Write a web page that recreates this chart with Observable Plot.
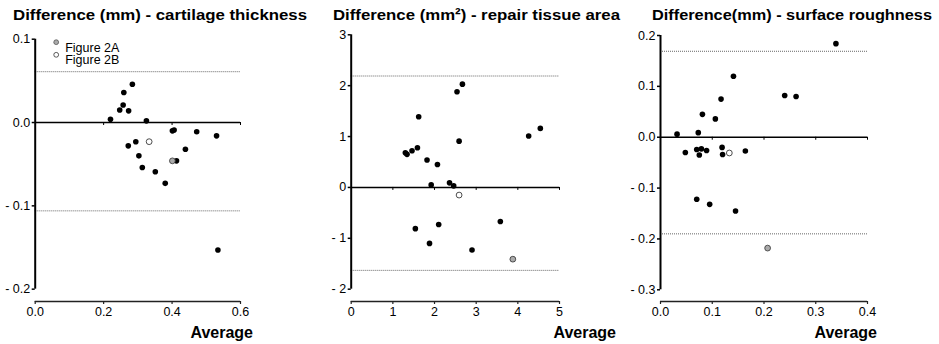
<!DOCTYPE html>
<html>
<head>
<meta charset="utf-8">
<script src="https://cdn.jsdelivr.net/npm/d3@7"></script>
<script src="https://cdn.jsdelivr.net/npm/@observablehq/plot@0.6"></script>
<style>
  html, body { margin: 0; padding: 0; background: white; }
  #root { position: relative; width: 939px; height: 344px; overflow: hidden; font-family: "Liberation Sans", Arial, Helvetica, sans-serif; }
  .panel { position: absolute; top: 0; }
  .title { position: absolute; font-weight: bold; font-size: 15.5px; line-height: 16px; white-space: nowrap; transform-origin: 0 0; color: #000; }
  .avg { position: absolute; font-weight: bold; font-size: 16px; line-height: 16px; white-space: nowrap; color: #000; }
</style>
</head>
<body>
<div id="root"></div>
<script>
// ---------- Data ----------
// Panel 1: cartilage thickness (mm)
const thicknessAvg  = [0.220,0.247,0.257,0.259,0.273,0.284,0.272,0.294,0.303,0.313,0.325,0.351,0.380,0.401,0.406,0.413,0.439,0.472,0.530,0.534];
const thicknessDiff = [0.004,0.015,0.021,0.036,0.014,0.046,-0.028,-0.023,-0.040,-0.054,0.002,-0.059,-0.073,-0.010,-0.009,-0.046,-0.032,-0.011,-0.016,-0.153];
const thicknessFig2A = {avg: 0.401, diff: -0.046};
const thicknessFig2B = {avg: 0.333, diff: -0.023};
const thicknessLimits = [0.061, -0.106];
const thicknessXTicks = [0, 0.2, 0.4, 0.6];
const thicknessYTicks = [-0.2, -0.1, 0, 0.1];

// Panel 2: repair tissue area (mm²)
const areaAvg  = [1.30,1.34,1.46,1.59,1.62,1.82,1.92,2.07,2.36,2.46,2.54,2.67,2.59,4.26,4.54,1.54,1.88,2.10,2.90,3.58];
const areaDiff = [0.68,0.65,0.72,0.78,1.39,0.54,0.05,0.45,0.09,0.03,1.88,2.03,0.91,1.01,1.16,-0.81,-1.10,-0.73,-1.23,-0.67];
const areaFig2A = {avg: 3.88, diff: -1.41};
const areaFig2B = {avg: 2.59, diff: -0.15};
const areaLimits = [2.19, -1.63];
const areaXTicks = [0, 1, 2, 3, 4, 5];
const areaYTicks = [-2, -1, 0, 1, 2, 3];

// Panel 3: surface roughness (mm)
const roughAvg  = [0.032,0.048,0.070,0.073,0.075,0.079,0.081,0.089,0.070,0.095,0.106,0.117,0.119,0.120,0.141,0.145,0.164,0.240,0.262,0.339];
const roughDiff = [0.006,-0.030,-0.024,0.009,-0.035,-0.023,0.045,-0.026,-0.122,-0.132,0.036,0.075,-0.020,-0.034,0.120,-0.145,-0.027,0.082,0.080,0.184];
const roughFig2A = {avg: 0.207, diff: -0.218};
const roughFig2B = {avg: 0.133, diff: -0.031};
const roughLimits = [0.169, -0.190];
const roughXTicks = [0, 0.1, 0.2, 0.3, 0.4];
const roughYTicks = [-0.3, -0.2, -0.1, 0, 0.1, 0.2];

const titles = ["Difference (mm) - cartilage thickness", "Difference (mm\u00B2) - repair tissue area", "Difference(mm) - surface roughness"];
const xLabel = "Average";
const legendLabels = ["Figure 2A", "Figure 2B"];

// ---------- Helpers ----------
const fmt1 = d => d < 0 ? "- " + Math.abs(d).toFixed(1) : d.toFixed(1);
const fmt0 = d => d < 0 ? "- " + Math.abs(d).toFixed(0) : d.toFixed(0);

function panel(cfg) {
  const pts = cfg.avg.map((a, i) => ({avg: a, diff: cfg.diff[i]}));
  const x0 = cfg.xTicks[0], x1 = cfg.xTicks[cfg.xTicks.length - 1];
  const yTop = cfg.yTicks[cfg.yTicks.length - 1], yBot = cfg.yTicks[0];
  const marks = [
    Plot.ruleY(cfg.limits, {x1: x0, x2: x1, stroke: "#666", strokeWidth: 1, strokeDasharray: "1,1"}),
    Plot.ruleY([0], {x1: x0, x2: x1, stroke: "#000", strokeWidth: 1.6}),
    Plot.ruleX(cfg.xTicks.slice(1), {y1: 0, y2: 0, insetBottom: -3, stroke: "#000", strokeWidth: 1}),
    Plot.ruleX([x0], {y1: yBot, y2: yTop, stroke: "#000", strokeWidth: 2}),
    Plot.ruleY([cfg.yMin], {x1: x0, x2: x1, stroke: "#222", strokeWidth: 1.5}),
    Plot.axisY({ticks: cfg.yTicks, tickFormat: cfg.fmtY, tickSize: 3, tickPadding: 2, stroke: "#000", strokeWidth: 1.5, fontSize: 12.5, label: null}),
    Plot.axisX({ticks: cfg.xTicks, tickFormat: cfg.fmtX, tickSize: 3, tickPadding: 3, stroke: "#222", strokeWidth: 1.2, fontSize: 12.5, label: null}),
    Plot.dot(pts, {x: "avg", y: "diff", r: 2.8, fill: "#000", stroke: "none"}),
    Plot.dot([cfg.a2], {x: "avg", y: "diff", r: 2.9, fill: "#aaa", stroke: "#333", strokeWidth: 0.8}),
    Plot.dot([cfg.b2], {x: "avg", y: "diff", r: 2.9, fill: "#fff", stroke: "#222", strokeWidth: 0.8})
  ];
  if (cfg.legend) {
    marks.push(
      Plot.dot([legendLabels[0]], {frameAnchor: "top-left", dx: 21, dy: 3, r: 2.4, fill: "#aaa", stroke: "#555", strokeWidth: 0.8}),
      Plot.dot([legendLabels[1]], {frameAnchor: "top-left", dx: 21, dy: 15.6, r: 2.4, fill: "#fff", stroke: "#333", strokeWidth: 0.8}),
      Plot.text([legendLabels[0]], {text: d => d, frameAnchor: "top-left", dx: 30, dy: 3.5, textAnchor: "start", fontSize: 12.5}),
      Plot.text([legendLabels[1]], {text: d => d, frameAnchor: "top-left", dx: 30, dy: 16, textAnchor: "start", fontSize: 12.5})
    );
  }
  return Plot.plot({
    width: cfg.width, height: 344,
    marginLeft: cfg.ml, marginRight: cfg.mr, marginTop: cfg.mt, marginBottom: 43,
    x: {domain: [x0, x1]},
    y: {domain: [cfg.yMin, yTop]},
    style: {fontFamily: "'Liberation Sans', Arial, Helvetica, sans-serif", fontSize: "12.5px", color: "#000", background: "transparent", overflow: "visible"},
    marks
  });
}

const root = document.getElementById("root");
const cfgs = [
  {left: 0, width: 310, ml: 34.7, mr: 70, mt: 38.7, yMin: -0.2148,
   avg: thicknessAvg, diff: thicknessDiff, a2: thicknessFig2A, b2: thicknessFig2B, limits: thicknessLimits,
   xTicks: thicknessXTicks, yTicks: thicknessYTicks, fmtX: fmt1, fmtY: fmt1, legend: true,
   title: {left: 12.7, w: 294}, avgRight: 253},
  {left: 310, width: 310, ml: 40.7, mr: 61, mt: 34.3, yMin: -2.242,
   avg: areaAvg, diff: areaDiff, a2: areaFig2A, b2: areaFig2B, limits: areaLimits,
   xTicks: areaXTicks, yTicks: areaYTicks, fmtX: fmt0, fmtY: fmt0, legend: false,
   title: {left: 333.3, w: 287}, avgRight: 616},
  {left: 620, width: 319, ml: 40, mr: 72, mt: 35, yMin: -0.323,
   avg: roughAvg, diff: roughDiff, a2: roughFig2A, b2: roughFig2B, limits: roughLimits,
   xTicks: roughXTicks, yTicks: roughYTicks, fmtX: fmt1, fmtY: fmt1, legend: false,
   title: {left: 652, w: 280}, avgRight: 877}
];

cfgs.forEach((cfg, i) => {
  const div = document.createElement("div");
  div.className = "panel";
  div.style.left = cfg.left + "px";
  div.appendChild(panel(cfg));
  root.appendChild(div);

  const t = document.createElement("div");
  t.className = "title";
  t.textContent = titles[i];
  t.style.left = cfg.title.left + "px";
  t.style.top = "7.3px";
  root.appendChild(t);
  const w = t.getBoundingClientRect().width;
  t.style.transform = `scaleX(${cfg.title.w / w})`;

  const a = document.createElement("div");
  a.className = "avg";
  a.textContent = xLabel;
  a.style.top = "324.5px";
  root.appendChild(a);
  const aw = a.getBoundingClientRect().width;
  a.style.left = (cfg.avgRight - aw) + "px";
});
</script>
</body>
</html>
